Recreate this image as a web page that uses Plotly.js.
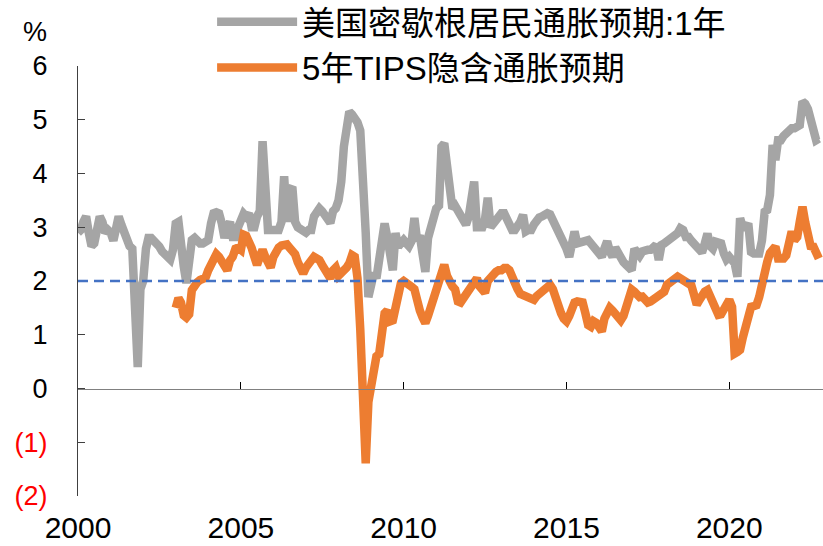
<!DOCTYPE html>
<html><head><meta charset="utf-8">
<script src="https://cdn.plot.ly/plotly-3.0.1.min.js"></script>
<style>html,body{margin:0;padding:0;background:#fff}</style>
</head><body><div id="chart" style="width:823px;height:546px"></div>
<script>
// Monthly series
const michiganStart = [2000, 1];
const michigan1y = [
  2.9, 2.95, 3.1, 3.2, 2.9, 2.65, 2.7, 3.0, 3.2, 3.1, 2.9, 2.95,
  2.9, 2.75, 2.95, 3.2, 3.05, 2.9, 2.8, 2.65, 2.6, 1.1, 0.4, 1.85,
  2.0, 2.6, 2.8, 2.8, 2.76, 2.73, 2.64, 2.55, 2.48, 2.42, 2.4, 2.58,
  3.07, 3.1, 2.58, 2.27, 1.96, 2.4, 2.76, 2.8, 2.73, 2.7, 2.7, 2.73,
  2.76, 3.07, 3.26, 3.28, 3.26, 3.07, 2.8, 3.0, 3.1, 2.82, 2.82, 3.0,
  3.13, 3.25, 3.2, 3.26, 3.0, 3.0, 3.2, 3.3, 4.6, 3.4, 2.95, 2.95,
  2.95, 2.95, 2.95, 3.1, 3.95, 3.1, 3.7, 3.75, 3.1, 3.0, 2.95, 2.95,
  2.9, 2.95, 2.95, 3.2, 3.3, 3.35, 3.3, 3.2, 3.1, 3.08, 3.3, 3.35,
  3.5, 3.85, 4.5, 5.0, 5.15, 5.1, 5.03, 4.95, 4.8, 4.0, 2.9, 1.7,
  1.9, 2.15, 2.05, 2.45, 2.85, 3.07, 2.82, 2.4, 2.2, 2.89, 2.64, 2.7,
  2.76, 2.7, 2.65, 2.75, 3.17, 2.75, 2.85, 2.5, 2.17, 2.8, 3.0, 3.3,
  3.35, 3.4, 4.5, 4.56, 4.07, 3.82, 3.35, 3.4, 3.3, 3.2, 3.13, 3.05,
  3.2, 3.6, 3.85, 3.0, 3.0, 3.0, 3.15, 3.55, 3.0, 3.08, 3.15, 3.23,
  3.26, 3.26, 3.13, 3.08, 2.95, 2.95, 3.0, 3.1, 3.23, 2.92, 2.95, 2.95,
  3.05, 3.14, 3.18, 3.2, 3.23, 3.26, 3.24, 3.14, 3.0, 2.95, 2.85, 2.76,
  2.6, 2.45, 2.7, 2.92, 2.7, 2.72, 2.76, 2.78, 2.76, 2.7, 2.62, 2.57,
  2.5, 2.45, 2.6, 2.74, 2.55, 2.45, 2.62, 2.5, 2.39, 2.35, 2.3, 2.27,
  2.2, 2.6, 2.55, 2.47, 2.55, 2.58, 2.58, 2.58, 2.62, 2.67, 2.39, 2.67,
  2.7, 2.73, 2.78, 2.82, 2.86, 2.89, 2.98, 2.95, 2.82, 2.82, 2.75, 2.7,
  2.64, 2.6, 2.53, 2.7, 2.88, 2.65, 2.6, 2.73, 2.72, 2.7, 2.51, 2.4,
  2.45, 2.39, 2.33, 2.08, 3.17, 3.0, 3.0, 3.07, 2.54, 2.51, 2.51, 2.51,
  2.75, 3.29, 3.32, 3.6, 4.53, 4.25, 4.62, 4.62, 4.7, 4.75, 4.84, 4.84,
  4.84, 4.87, 4.9, 5.34, 5.3, 5.2, 4.95, 4.68, 4.62, 4.65
];
const tipsStart = [2003, 1];
const tips5y = [
  1.5, 1.68, 1.6, 1.36, 1.32, 1.38, 1.83, 1.95, 1.98, 2.02, 2.05, 2.06,
  2.2, 2.3, 2.4, 2.5, 2.45, 2.35, 2.25, 2.2, 2.38, 2.45, 2.6, 2.62,
  2.58, 2.86, 2.84, 2.75, 2.62, 2.45, 2.3, 2.45, 2.58, 2.45, 2.35, 2.25,
  2.45, 2.58, 2.62, 2.66, 2.68, 2.68, 2.62, 2.55, 2.5, 2.35, 2.18, 2.14,
  2.25, 2.33, 2.4, 2.45, 2.42, 2.39, 2.3, 2.2, 2.07, 2.05, 2.2, 2.25,
  2.1, 2.14, 2.17, 2.25, 2.33, 2.48, 2.45, 2.05, 1.1, -0.55, -1.39, -0.25,
  0.0, 0.35, 0.6, 0.64, 1.0, 1.4, 1.45, 1.25, 1.27, 1.55, 1.75, 1.96,
  2.0, 1.95, 1.89, 1.89, 1.85, 1.6, 1.45, 1.32, 1.22, 1.35, 1.5, 1.7,
  1.85, 2.05, 2.15, 2.3, 2.1, 1.95, 1.9, 1.84, 1.62, 1.6, 1.68, 1.77,
  1.82, 1.95, 2.02, 2.05, 1.9, 1.8, 1.78, 2.0, 2.08, 2.14, 2.17, 2.2,
  2.2, 2.24, 2.24, 2.2, 2.05, 1.96, 1.85, 1.76, 1.74, 1.72, 1.68, 1.64,
  1.65, 1.72, 1.76, 1.8, 1.88, 1.93, 1.93, 1.85, 1.65, 1.48, 1.4, 1.3,
  1.25, 1.35, 1.55, 1.6, 1.62, 1.62, 1.6, 1.4, 1.18, 1.15, 1.25, 1.22,
  1.15, 1.06, 1.3, 1.45, 1.5, 1.45, 1.38, 1.34, 1.27, 1.35, 1.5, 1.7,
  1.84, 1.8, 1.72, 1.7, 1.71, 1.65, 1.6, 1.62, 1.65, 1.7, 1.74, 1.76,
  1.8, 1.93, 1.97, 2.02, 2.06, 2.08, 2.05, 2.02, 2.0, 1.99, 1.92, 1.75,
  1.56, 1.65, 1.77, 1.8, 1.83, 1.7, 1.55, 1.4, 1.37, 1.38, 1.5, 1.6,
  1.65, 1.52, 0.65, 0.68, 0.72, 0.95, 1.15, 1.35, 1.52, 1.53, 1.55, 1.7,
  2.0, 2.2, 2.35, 2.52, 2.6, 2.64, 2.42, 2.42, 2.42, 2.48, 2.7, 2.92,
  2.76, 2.82, 3.1, 3.38, 3.1, 2.85, 2.65, 2.64, 2.5, 2.42
];
const targetRate = 2;
const seriesNames = ['美国密歇根居民通胀预期:1年', '5年TIPS隐含通胀预期'];
const seriesColors = ['#A5A5A5', '#ED7D31'];
const yTickVals = [6, 5, 4, 3, 2, 1, 0, -1, -2];
const yTickText = ['6', '5', '4', '3', '2', '1', '0', '(1)', '(2)'];
const xTickYears = ['2000', '2005', '2010', '2015', '2020'];
const xRange = ['2000-01-01', '2022-11-17'];

function monthDates(start, n) {
  const out = [];
  for (let k = 0; k < n; k++) {
    const m0 = start[1] - 1 + k;
    const y = start[0] + Math.floor(m0 / 12);
    const m = (m0 % 12) + 1;
    out.push(y + '-' + String(m).padStart(2, '0') + '-01');
  }
  return out;
}

const traces = [
  {x: monthDates(michiganStart, michigan1y.length), y: michigan1y, name: seriesNames[0],
   type: 'scatter', mode: 'lines', legendgroup: 'a',
   line: {color: seriesColors[0], width: 8.5}},
  {x: monthDates(tipsStart, tips5y.length), y: tips5y, name: seriesNames[1],
   type: 'scatter', mode: 'lines', legendgroup: 'b',
   line: {color: seriesColors[1], width: 8.5}}
];

const yText = yTickText.map((t, k) => yTickVals[k] < 0 ? '<span style="color:#FF0000">' + t + '</span>' : t);

const layout = {
  width: 823, height: 546,
  margin: {l: 78, r: 0, t: 66, b: 50, pad: 0, autoexpand: false},
  paper_bgcolor: '#ffffff', plot_bgcolor: '#ffffff',
  font: {family: '"Liberation Sans", Arial, "Noto Sans CJK SC", sans-serif', color: '#000000'},
  showlegend: true,
  legend: {x: 0.18, xanchor: 'left', y: 1.168, yanchor: 'top',
    font: {size: 33, family: '"Liberation Sans", "Noto Sans CJK SC", sans-serif', color: '#000'},
    itemwidth: 80, bgcolor: 'rgba(0,0,0,0)', tracegroupgap: 17, traceorder: 'normal'},
  xaxis: {type: 'date', range: xRange, anchor: 'free', position: 0.25,
    showline: true, linecolor: '#808080', linewidth: 1.5,
    ticks: 'inside', ticklen: 7, tickcolor: '#000', tickwidth: 1,
    tickvals: xTickYears.map(y => y + '-01-01'), ticktext: xTickYears,
    tickfont: {size: 30}, ticklabelstandoff: 112,
    showgrid: false, zeroline: false, fixedrange: true},
  yaxis: {range: [-2, 6], tickvals: yTickVals, ticktext: yText,
    showline: true, linecolor: '#404040', linewidth: 1,
    ticks: 'inside', ticklen: 7, tickcolor: '#404040', tickwidth: 1,
    tickfont: {size: 27}, ticklabelstandoff: 24,
    showgrid: false, zeroline: false, fixedrange: true},
  shapes: [{type: 'line', xref: 'paper', x0: 0, x1: 1, yref: 'y', y0: targetRate, y1: targetRate,
    line: {color: '#4472C4', width: 2.5, dash: '10px,6px'}, layer: 'above'}],
  annotations: [{text: '%', xref: 'paper', yref: 'paper', x: -0.058, y: 1.08,
    xanchor: 'center', yanchor: 'middle',
    showarrow: false, font: {size: 27}}]
};

Plotly.newPlot('chart', traces, layout, {staticPlot: true, displayModeBar: false});
</script>
</body></html>
